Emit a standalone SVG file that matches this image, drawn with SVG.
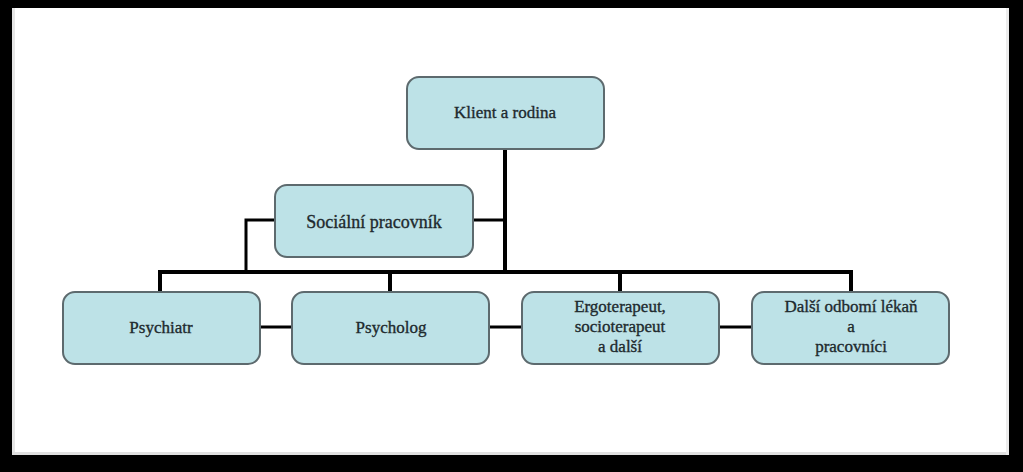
<svg xmlns="http://www.w3.org/2000/svg" width="1023" height="472" viewBox="0 0 1023 472">
<style>
.box{fill:#bde2e7;stroke:#5d6a6e;stroke-width:2}
.t{font-family:"Liberation Serif","Times New Roman",serif;fill:#1e2a2e;stroke:#1e2a2e;stroke-width:0.35;text-anchor:middle;font-size:17px}
.c{stroke:#000;fill:none;stroke-linecap:square}
.thick{stroke-width:4}
.thin{stroke-width:3}
</style>
<rect x="0" y="0" width="1023" height="472" fill="#000"/>
<rect x="12" y="8" width="997" height="447" fill="#fff"/>
<rect x="12" y="8" width="3" height="447" fill="#e6e6e6"/>
<rect x="12" y="452" width="997" height="3" fill="#e0e0e0"/>
<rect x="1006" y="8" width="3" height="447" fill="#ececec"/>
<g id="connectors">
<path class="c thick" d="M505 149 V272"/>
<path class="c thick" d="M160 292 V272 H851 V292"/>
<path class="c thick" d="M390 272 V292"/>
<path class="c thick" d="M620 272 V292"/>
<path class="c thin" d="M473 220 H505"/>
<path class="c thin" d="M275 220 H246 V272"/>
<path class="c thin" d="M260 327 H292"/>
<path class="c thin" d="M489 327 H522"/>
<path class="c thin" d="M719 327 H752"/>
</g>
<g id="klient">
<rect class="box" x="407" y="77" width="197" height="72" rx="12"/>
<text class="t" x="505" y="118">Klient a rodina</text>
</g>
<g id="socialni">
<rect class="box" x="275" y="185" width="198" height="72" rx="12"/>
<text class="t" x="374" y="228" style="font-size:18px">Sociální pracovník</text>
</g>
<g id="psychiatr">
<rect class="box" x="63" y="292" width="197" height="72" rx="12"/>
<text class="t" x="161" y="333">Psychiatr</text>
</g>
<g id="psycholog">
<rect class="box" x="292" y="292" width="197" height="72" rx="12"/>
<text class="t" x="391" y="333">Psycholog</text>
</g>
<g id="ergoterapeut">
<rect class="box" x="522" y="292" width="197" height="72" rx="12"/>
<text class="t" x="620" y="312">Ergoterapeut,</text>
<text class="t" x="620" y="332">socioterapeut</text>
<text class="t" x="620" y="352">a další</text>
</g>
<g id="dalsi">
<rect class="box" x="752" y="292" width="197" height="72" rx="12"/>
<text class="t" x="851" y="312">Další odbomí lékaň</text>
<text class="t" x="851" y="332">a</text>
<text class="t" x="851" y="352">pracovníci</text>
</g>
</svg>
